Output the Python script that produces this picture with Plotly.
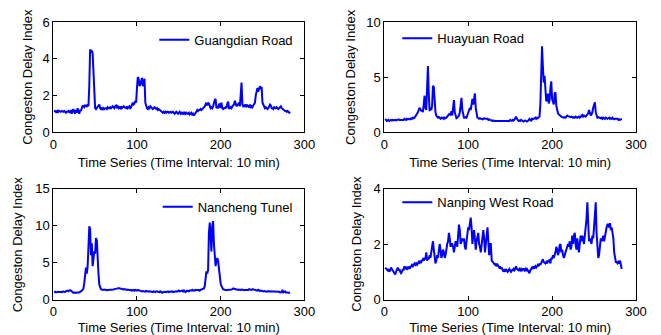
import plotly.graph_objects as go

guangdian = [
    1.1,1.15,1.1,1.05,1.2,1.1,1.15,1.1,1.1,1.15,
    1.1,1.1,1.15,1.1,1.05,1.1,1.1,1.15,1.1,1.05,
    1.2,1.0,1.15,1.25,1.1,1.0,1.2,1.05,1.3,1.1,
    1.0,1.2,1.15,1.3,1.45,1.4,1.35,1.45,1.4,1.4,
    1.5,1.4,2.5,4.5,4.4,4.45,4.3,3.0,1.6,1.3,
    1.25,1.3,1.35,1.45,1.5,1.3,1.25,1.3,1.2,1.3,
    1.25,1.3,1.3,1.25,1.35,1.3,1.3,1.35,1.3,1.35,
    1.4,1.35,1.3,1.4,1.45,1.35,1.4,1.3,1.35,1.3,
    1.4,1.3,1.35,1.4,1.35,1.3,1.3,1.4,1.3,1.35,
    1.4,1.3,1.35,1.5,1.6,1.5,1.55,1.7,1.6,2.4,
    3.0,2.9,2.5,2.6,2.9,2.95,2.5,2.7,2.9,1.6,
    1.4,1.3,1.25,1.35,1.3,1.4,1.35,1.3,1.25,1.3,
    1.35,1.3,1.25,1.3,1.2,1.25,1.2,1.15,1.1,1.1,
    1.05,1.1,1.05,1.1,1.05,1.1,1.1,1.05,1.1,1.1,
    1.05,1.1,1.1,1.05,1.0,1.05,1.1,1.05,1.0,1.05,
    1.1,1.0,1.05,1.0,1.05,1.0,1.1,1.0,1.05,1.0,
    1.0,1.05,0.95,1.0,1.05,0.95,1.0,0.9,0.95,1.0,
    1.1,1.2,1.15,1.2,1.2,1.25,1.2,1.25,1.3,1.3,
    1.4,1.5,1.6,1.45,1.6,1.55,1.4,1.3,1.35,1.3,
    1.4,1.6,1.75,1.8,1.3,1.35,1.3,1.5,1.55,1.3,
    1.6,1.3,1.25,1.3,1.3,1.35,1.3,1.55,1.65,1.3,
    1.3,1.35,1.3,1.4,1.45,1.5,1.7,1.6,1.4,1.45,
    1.5,1.6,1.4,2.0,2.7,1.5,1.4,1.45,1.4,1.5,
    1.4,1.45,1.4,1.35,1.5,1.3,1.4,1.35,1.45,1.5,
    1.6,2.0,2.3,2.4,2.2,2.35,2.5,2.4,2.45,1.6,
    1.5,1.4,1.3,1.35,1.3,1.25,1.3,1.4,1.5,1.45,
    1.3,1.3,1.25,1.35,1.3,1.3,1.35,1.3,1.25,1.3,
    1.35,1.4,1.3,1.25,1.2,1.2,1.15,1.15,1.1,1.15,
    1.1,1.05,1.1,
]

huayuan = [
    1.2,1.1,1.0,1.05,1.1,1.0,1.05,1.1,1.05,1.1,
    1.05,1.1,1.1,1.05,1.1,1.1,1.15,1.1,1.1,1.15,
    1.1,1.15,1.1,1.2,1.15,1.1,1.2,1.15,1.2,1.2,
    1.15,1.25,1.2,1.3,1.25,1.3,1.4,1.5,1.6,1.8,
    2.0,2.2,2.1,1.9,2.0,1.8,2.5,3.3,2.2,2.0,
    4.0,6.0,3.5,1.9,2.2,2.0,2.4,4.2,4.1,2.2,
    1.8,1.5,1.4,1.3,1.35,1.3,1.2,1.3,1.25,1.3,
    1.2,1.3,1.25,1.3,1.4,1.5,1.6,1.7,1.5,1.9,
    1.5,2.2,2.9,1.8,1.3,1.25,1.3,1.4,1.5,1.8,
    2.6,3.1,2.0,1.4,1.3,1.3,1.35,1.3,1.5,1.8,
    2.0,2.2,2.0,2.8,3.0,2.5,3.3,3.5,2.2,1.4,
    1.3,1.25,1.2,1.25,1.2,1.2,1.15,1.2,1.25,1.2,
    1.2,1.15,1.2,1.1,1.15,1.1,1.1,1.05,1.0,1.05,
    1.0,1.0,1.05,1.0,1.0,1.0,1.05,1.0,1.0,1.0,
    1.0,1.05,1.0,1.0,1.05,1.0,1.0,1.05,1.0,1.1,
    1.05,1.0,1.1,1.05,1.1,1.2,1.4,1.2,1.1,1.0,
    1.05,1.0,1.1,1.05,1.0,0.95,1.0,1.05,1.0,0.95,
    1.0,1.1,1.2,1.1,1.05,1.2,1.15,1.2,1.25,1.3,
    1.2,1.3,1.25,1.3,1.4,2.5,5.0,7.8,6.0,4.5,
    5.1,3.2,2.8,2.9,3.5,2.6,2.9,4.0,4.6,3.0,
    2.6,2.5,3.5,3.6,2.4,1.9,1.7,1.6,1.5,1.4,
    1.4,1.35,1.3,1.3,1.35,1.3,1.4,1.5,1.45,1.4,
    1.4,1.35,1.4,1.35,1.3,1.35,1.3,1.4,1.35,1.3,
    1.35,1.4,1.3,1.35,1.5,1.55,1.4,1.5,1.45,1.4,
    1.5,1.6,1.7,2.0,1.6,1.5,1.6,1.8,2.2,2.6,
    2.7,1.8,1.4,1.3,1.35,1.3,1.3,1.25,1.3,1.2,
    1.3,1.25,1.2,1.3,1.25,1.2,1.25,1.3,1.2,1.25,
    1.2,1.3,1.2,1.15,1.2,1.2,1.15,1.2,1.1,1.15,
    1.1,1.2,1.2,
]

nancheng = [
    1.0,1.05,0.95,1.0,1.0,1.05,1.0,0.95,1.0,1.05,
    1.0,1.1,1.05,1.0,1.1,1.15,1.2,1.1,1.2,1.25,
    1.2,1.1,1.0,0.9,0.95,0.9,0.9,0.95,1.0,0.95,
    0.95,1.0,1.1,1.2,1.3,1.5,2.2,3.5,4.3,3.5,
    4.4,7.0,9.9,9.5,6.0,7.6,4.5,5.5,6.5,6.2,
    8.3,8.0,5.0,3.5,2.0,1.6,1.4,1.35,1.3,1.3,
    1.35,1.3,1.3,1.25,1.3,1.3,1.25,1.3,1.3,1.35,
    1.3,1.35,1.4,1.4,1.45,1.5,1.5,1.55,1.5,1.5,
    1.45,1.4,1.4,1.35,1.4,1.35,1.3,1.3,1.35,1.3,
    1.3,1.25,1.3,1.2,1.25,1.3,1.2,1.3,1.25,1.2,
    1.3,1.25,1.3,1.25,1.2,1.1,1.15,1.1,1.1,1.05,
    1.15,1.1,1.1,1.05,1.1,1.05,1.1,1.05,1.0,1.1,
    1.05,1.0,1.1,1.05,1.0,1.05,1.0,1.1,1.05,0.9,
    1.0,1.05,1.0,1.05,1.0,1.05,1.1,1.0,1.05,1.1,
    1.05,1.1,1.0,1.05,1.1,1.15,1.1,1.05,1.1,1.2,
    1.1,1.15,1.1,1.2,1.1,1.3,1.1,1.0,1.1,1.2,
    1.15,1.1,1.2,1.15,1.2,1.3,1.2,1.25,1.2,1.3,
    1.25,1.3,1.25,1.3,1.2,1.3,1.35,1.3,1.4,1.5,
    1.8,2.8,3.8,3.5,4.0,9.0,10.4,8.5,6.5,10.0,
    10.6,7.5,5.0,4.5,5.3,5.6,5.2,4.0,3.0,2.2,
    1.8,1.5,1.4,1.35,1.3,1.3,1.25,1.3,1.3,1.25,
    1.3,1.3,1.35,1.4,1.5,1.45,1.4,1.35,1.4,1.35,
    1.3,1.35,1.3,1.3,1.35,1.3,1.25,1.3,1.25,1.3,
    1.35,1.3,1.3,1.4,1.35,1.3,1.3,1.4,1.35,1.3,
    1.3,1.2,1.25,1.2,1.3,1.2,1.15,1.2,1.15,1.1,
    1.1,1.15,1.1,1.1,1.05,1.1,1.1,1.05,1.1,1.1,
    1.05,1.0,1.1,1.05,1.0,1.0,1.05,1.0,1.0,1.05,
    0.95,1.0,1.0,1.3,0.95,1.0,1.1,0.95,1.0,0.95,
    0.9,0.95,0.9,
]

nanping = [
    1.15,1.1,1.1,1.05,1.1,1.0,1.05,1.15,1.1,1.05,
    1.0,0.95,0.9,1.0,1.1,1.15,1.05,1.1,1.0,0.95,
    1.0,1.1,1.05,1.2,1.1,1.15,1.1,1.15,1.1,1.2,
    1.15,1.2,1.25,1.2,1.25,1.3,1.25,1.3,1.25,1.3,
    1.35,1.3,1.4,1.35,1.4,1.45,1.4,1.5,1.45,1.7,
    1.4,1.5,1.45,1.6,1.5,1.7,1.9,2.1,1.8,1.5,
    1.3,1.4,1.6,1.5,1.9,2.0,1.8,1.5,1.6,1.8,
    1.7,1.5,1.6,1.9,2.0,2.1,2.4,2.2,1.9,2.0,
    2.0,1.9,1.7,1.9,2.1,2.0,1.9,2.3,2.7,2.5,
    2.0,2.1,2.2,2.1,2.2,1.9,1.8,2.1,2.4,2.6,
    2.5,2.8,2.95,2.6,2.0,2.3,2.5,2.2,1.8,2.1,
    2.3,2.4,2.0,1.9,1.7,2.0,2.4,2.5,2.2,1.7,
    2.0,2.4,2.6,2.1,1.6,2.0,2.0,1.4,1.35,1.3,
    1.3,1.25,1.3,1.2,1.25,1.2,1.15,1.2,1.1,1.15,
    1.1,1.0,1.05,1.0,1.1,1.05,1.0,1.05,1.1,1.05,
    1.0,1.05,1.05,1.1,1.05,1.1,1.2,1.1,1.05,1.05,
    1.1,1.05,1.1,1.05,1.1,1.1,1.05,1.1,1.05,1.1,
    1.05,1.0,0.95,1.05,1.1,1.15,1.1,1.2,1.15,1.2,
    1.15,1.2,1.25,1.2,1.3,1.25,1.3,1.4,1.45,1.35,
    1.3,1.3,1.35,1.3,1.4,1.35,1.45,1.3,1.5,1.45,
    1.6,1.5,1.6,1.7,1.9,1.8,1.6,1.7,1.95,2.0,
    1.7,1.8,1.6,1.5,1.6,1.7,1.8,1.9,2.0,1.9,
    2.1,1.8,1.9,2.3,2.0,2.3,2.4,2.0,1.8,2.2,
    2.0,1.7,2.0,2.3,2.1,2.3,2.2,2.0,2.3,2.6,
    2.9,3.5,2.4,2.1,2.2,2.1,2.0,2.3,2.2,2.6,
    3.0,3.5,2.4,1.8,1.5,1.6,1.9,2.2,2.1,2.2,
    2.3,2.1,2.3,2.5,2.6,2.7,2.7,2.6,2.75,2.5,
    2.6,2.4,2.2,1.7,1.4,1.35,1.35,1.3,1.35,1.3,
    1.4,1.2,1.1,
]

names = ["Guangdian Road", "Huayuan Road", "Nancheng Tunel", "Nanping West Road"]
series = [guangdian, huayuan, nancheng, nanping]
y_ranges = [[0, 6], [0, 10], [0, 15], [0, 4]]
y_dtick = [2, 5, 5, 2]
x_ticks = [0, 100, 200, 300]
x_title = "Time Series (Time Interval: 10 min)"
y_title = "Congeston Delay Index"

W, H = 661, 335
OFF = 8  # default body margin of the html page shifts the figure
# plot boxes in page pixels: (left, top, right, bottom)
boxes = [(53.3, 22, 304.3, 132), (384.3, 22, 636, 132),
         (53.3, 188.5, 304.3, 299.5), (384.3, 188.5, 636, 299.5)]
# y-title centre x in page pixels
ytitle_x = [26.7, 350, 18.3, 356.7]
xtitle_standoff = [7, 7, 4, 4]
# legend: (text start x, text centre y) in page pixels
legend_pos = [(194.3, 40.7), (437.3, 39.3), (197.7, 207.7), (437.3, 203.3)]

FONT = "Liberation Sans, Arial, sans-serif"
fig = go.Figure()
layout = dict(width=W, height=H, margin=dict(l=0, r=0, t=0, b=0),
              paper_bgcolor="white", plot_bgcolor="white",
              font=dict(family=FONT, size=13, color="black"), showlegend=True)
annotations = []

for i, (nm, ys) in enumerate(zip(names, series)):
    k = "" if i == 0 else str(i + 1)
    xs = list(range(1, len(ys) + 1))
    fig.add_trace(go.Scatter(x=xs, y=ys, mode="lines", name=nm,
                             line=dict(color="#0000ff", width=2),
                             xaxis="x" + k, yaxis="y" + k,
                             legend="legend" + k))
    l, t, r, b = [v - OFF for v in boxes[i]]
    ax = dict(domain=[l / W, r / W], range=[0, 300], tickvals=x_ticks,
              ticks="inside", ticklen=4, tickcolor="black", mirror="ticks",
              showline=True, linecolor="black", linewidth=1, showgrid=False,
              zeroline=False, tickfont=dict(size=13), automargin=False,
              title=dict(text=x_title, font=dict(size=13), standoff=xtitle_standoff[i]),
              anchor="y" + k)
    ay = dict(domain=[1 - b / H, 1 - t / H], range=y_ranges[i], dtick=y_dtick[i],
              ticks="inside", ticklen=4, tickcolor="black", mirror="ticks",
              showline=True, linecolor="black", linewidth=1, showgrid=False,
              zeroline=False, tickfont=dict(size=13), automargin=False,
              anchor="x" + k)
    layout["xaxis" + k] = ax
    layout["yaxis" + k] = ay
    annotations.append(dict(text=y_title, textangle=-90, showarrow=False,
                            xref="paper", yref="paper",
                            x=(ytitle_x[i] - OFF) / W, y=1 - ((t + b) / 2) / H,
                            xanchor="center", yanchor="middle",
                            font=dict(size=13)))
    tx, ty = legend_pos[i]
    lx = tx - 40 - OFF
    ly = ty - 1 - OFF
    layout["legend" + k] = dict(x=lx / W, y=1 - ly / H, xanchor="left", yanchor="middle",
                                bgcolor="rgba(0,0,0,0)", borderwidth=0,
                                font=dict(size=13))

layout["annotations"] = annotations
fig.update_layout(**layout)
fig.write_html("out.html")
